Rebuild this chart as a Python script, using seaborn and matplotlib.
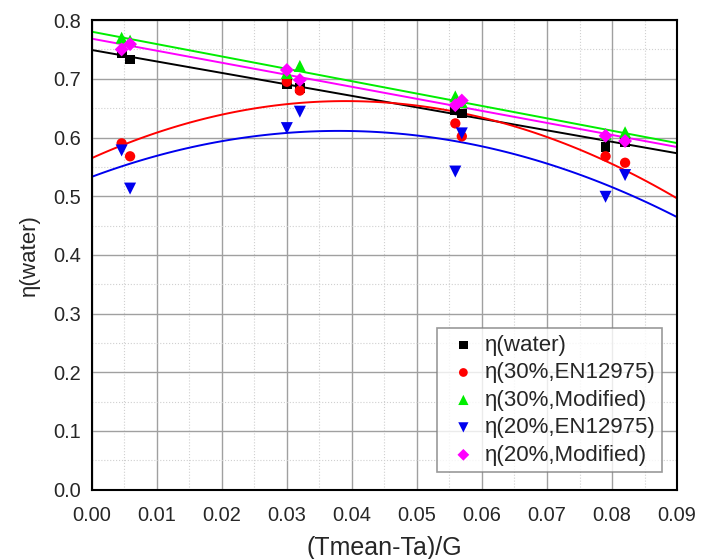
import numpy as np
import pandas as pd
import matplotlib
matplotlib.use("Agg")
import matplotlib.pyplot as plt
import seaborn as sns
from matplotlib.ticker import MultipleLocator, FormatStrFormatter

# x positions of the measurements, (Tmean-Ta)/G
x_vals = [0.0046, 0.0059, 0.0300, 0.0320, 0.0559, 0.0569, 0.0790, 0.0820]

# efficiency values per series
eta_water = [0.743, 0.733, 0.691, 0.684, 0.647, 0.641, 0.584, 0.593]
eta_30_en = [0.590, 0.568, 0.695, 0.680, 0.624, 0.602, 0.568, 0.557]
eta_30_mod = [0.770, 0.765, 0.710, 0.722, 0.670, 0.660, 0.606, 0.609]
eta_20_en = [0.578, 0.513, 0.616, 0.644, 0.542, 0.607, 0.499, 0.536]
eta_20_mod = [0.750, 0.759, 0.715, 0.698, 0.655, 0.663, 0.603, 0.594]

labels = ["η(water)", "η(30%,EN12975)", "η(30%,Modified)",
          "η(20%,EN12975)", "η(20%,Modified)"]
series = [eta_water, eta_30_en, eta_30_mod, eta_20_en, eta_20_mod]
colors = ["black", "#ff0000", "#00ee00", "#0000ee", "#ff00ff"]
markers = ["s", "o", "^", "v", "D"]
sizes = [50, 55, 75, 75, 50]
orders = [1, 2, 1, 2, 1]

sns.set_style("white")
plt.rcParams["font.family"] = ["Liberation Sans", "DejaVu Sans"]

fig = plt.figure(figsize=(7.12, 5.59), dpi=100)
ax = fig.add_axes([0.1288, 0.124, 0.8222, 0.840])
ax.set_xlim(0, 0.09)
ax.set_ylim(0, 0.8)

# fitted trend lines first
for ys, c, o in zip(series, colors, orders):
    df = pd.DataFrame({"x": x_vals, "y": ys})
    sns.regplot(data=df, x="x", y="y", order=o, scatter=False, ci=None,
                truncate=False, color=c, line_kws={"lw": 1.4}, ax=ax)

# measured points
for ys, c, m, s, lab in zip(series, colors, markers, sizes, labels):
    df = pd.DataFrame({"x": x_vals, "y": ys})
    sns.scatterplot(data=df, x="x", y="y", color=c, marker=m, s=s,
                    edgecolor="none", label=lab, ax=ax, zorder=3)

ax.set_xlim(0, 0.09)
ax.set_ylim(0, 0.8)
ax.xaxis.set_major_locator(MultipleLocator(0.01))
ax.xaxis.set_minor_locator(MultipleLocator(0.005))
ax.yaxis.set_major_locator(MultipleLocator(0.1))
ax.yaxis.set_minor_locator(MultipleLocator(0.05))
ax.xaxis.set_major_formatter(FormatStrFormatter("%.2f"))
ax.yaxis.set_major_formatter(FormatStrFormatter("%.1f"))
ax.grid(which="major", color="#a0a0a0", lw=1.0)
ax.grid(which="minor", color="#d0d0d0", lw=0.8, ls=":")
ax.set_axisbelow(True)
for sp in ax.spines.values():
    sp.set_color("black")
    sp.set_linewidth(1.5)
ax.tick_params(which="both", length=0, labelsize=14.4)
ax.tick_params(axis="x", pad=11.5)
ax.tick_params(axis="y", pad=7.5)

ax.set_xlabel("(Tmean-Ta)/G", fontsize=18, labelpad=8)
ax.set_ylabel("η(water)", fontsize=16, labelpad=10)

leg = ax.legend(loc="lower right", bbox_to_anchor=(0.974, 0.037), fontsize=16,
                frameon=True, fancybox=False, edgecolor="#808080",
                handlelength=1.8, handletextpad=0.05, borderpad=0.3,
                labelspacing=0.29, markerscale=0.85, borderaxespad=0)
leg.get_frame().set_linewidth(1.2)

fig.savefig("out.png", dpi=100)
